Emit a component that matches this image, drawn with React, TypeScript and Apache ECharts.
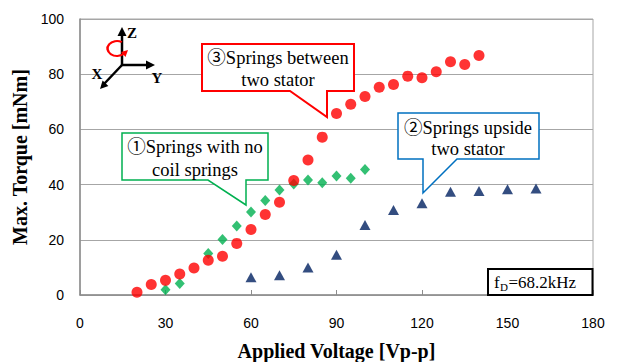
import React, { useEffect, useRef } from "react";
import * as echarts from "echarts";

const voltsRed = [20, 25, 30, 35, 40, 45, 50, 55, 60, 65, 70, 75, 80, 85, 90, 95, 100, 105, 110, 115, 120, 125, 130, 135, 140];
const torqueRed = [1, 3.8, 5.3, 7.6, 9.8, 12.6, 14, 18.7, 23.7, 29.2, 33.6, 41.5, 48.9, 57.2, 65.8, 69.1, 71.9, 75.3, 76.3, 79.3, 78.7, 80.9, 84.5, 83.5, 86.8];
const voltsGreen = [30, 35, 45, 50, 55, 60, 65, 70, 75, 80, 85, 90, 95, 100];
const torqueGreen = [1.9, 4.2, 15, 20.1, 25, 30.1, 34.2, 38, 40.2, 41.7, 40.7, 43.1, 42.3, 45.5];
const voltsBlue = [60, 70, 80, 90, 100, 110, 120, 130, 140, 150, 160];
const torqueBlue = [6.4, 7.2, 10, 14.6, 25.4, 30.8, 33.2, 37.4, 37.7, 38.3, 38.6];

const xTicks = [0, 30, 60, 90, 120, 150, 180];
const yTicks = [0, 20, 40, 60, 80, 100];

const serif = '"Liberation Serif", "Noto Sans CJK JP", serif';
const sans = '"Liberation Sans", "DejaVu Sans", sans-serif';

function pairs(xs: number[], ys: number[]) {
  return xs.map((x, i) => [x, ys[i]]);
}

function txt(x: number, y: number, text: string, size: number, align: string, weight = "normal", z = 101) {
  return {
    type: "text",
    x,
    y,
    z,
    style: {
      text,
      fontFamily: serif,
      fontSize: size,
      fontWeight: weight,
      fill: "#000",
      align,
      verticalAlign: "middle",
    },
  };
}

function callout(points: number[][], color: string, lw: number, lines: string[], cx: number, ys: number[]) {
  const els: any[] = [
    {
      type: "polygon",
      shape: { points },
      style: { fill: "#fff", stroke: color, lineWidth: lw },
      z: 100,
    },
  ];
  lines.forEach((t, i) => els.push(txt(cx, ys[i], t, 18.5, "center")));
  return els;
}

export default function App() {
  const ref = useRef<HTMLDivElement>(null);
  useEffect(() => {
    document.body.style.margin = "0";
    const chart = echarts.init(ref.current!, null, { renderer: "svg" });
    const axisColor = "#8c8c8c";
    const graphics: any[] = [
      // coordinate icon
      { type: "line", shape: { x1: 122, y1: 65, x2: 122, y2: 34 }, style: { stroke: "#000", lineWidth: 2.5 }, z: 50 },
      { type: "line", shape: { x1: 122, y1: 65, x2: 148, y2: 65 }, style: { stroke: "#000", lineWidth: 2.5 }, z: 50 },
      { type: "line", shape: { x1: 122, y1: 65, x2: 104, y2: 84 }, style: { stroke: "#000", lineWidth: 2.5 }, z: 50 },
      { type: "polygon", shape: { points: [[122, 27], [117.5, 36], [126.5, 36]] }, style: { fill: "#000" }, z: 50 },
      { type: "polygon", shape: { points: [[155, 65], [146, 60.5], [146, 69.5]] }, style: { fill: "#000" }, z: 50 },
      { type: "polygon", shape: { points: [[100, 89], [108.4, 86], [102.6, 80.4]] }, style: { fill: "#000" }, z: 50 },
      {
        type: "arc",
        x: 117,
        y: 48.5,
        scaleY: 0.78,
        shape: { cx: 0, cy: 0, r: 9.5, startAngle: -Math.PI / 3, endAngle: Math.PI / 4, clockwise: false },
        style: { stroke: "#ff0000", lineWidth: 2.5, fill: "none" },
        z: 51,
      },
      { type: "polygon", shape: { points: [[128, 50], [121, 52], [125.5, 57]] }, style: { fill: "#ff0000" }, z: 51 },
      txt(132, 33, "Z", 15, "center", "bold", 50),
      txt(157, 78, "Y", 15, "center", "bold", 50),
      txt(97, 74, "X", 15, "center", "bold", 50),
      // callouts
      ...callout([[202, 44], [354, 44], [354, 91], [327, 91], [327, 117], [290, 91], [202, 91]], "#ff0000", 2, ["③Springs between", "two stator"], 278, [58, 80]),
      ...callout([[122, 133], [268, 133], [268, 180], [246, 180], [246, 205], [208, 180], [122, 180]], "#00b050", 1.5, ["①Springs with no", "coil springs"], 195, [147, 170]),
      ...callout([[398, 113], [539, 113], [539, 159], [457, 159], [423, 193], [423, 159], [398, 159]], "#0070c0", 1.5, ["②Springs upside", "two stator"], 468, [128, 149]),
      // fD box
      { type: "rect", shape: { x: 488, y: 269, width: 104.5, height: 26 }, style: { fill: "#fff", stroke: "#000", lineWidth: 2 }, z: 100 },
      txt(494, 282, "f", 17, "left"),
      txt(500, 286.5, "D", 11, "left"),
      txt(508.5, 282, "=68.2kHz", 17, "left"),
    ];

    chart.setOption({
      animation: false,
      backgroundColor: "#fff",
      grid: {
        left: 80,
        right: 24,
        top: 19,
        bottom: 67,
        containLabel: false,
        outerBoundsMode: "none",
        show: true,
        borderColor: "#a6a6a6",
        borderWidth: 1,
        backgroundColor: "transparent",
      },
      xAxis: {
        type: "value",
        min: xTicks[0],
        max: xTicks[xTicks.length - 1],
        interval: 30,
        name: "Applied Voltage [Vp-p]",
        nameLocation: "middle",
        nameGap: 46,
        nameTextStyle: { fontFamily: serif, fontWeight: "bold", fontSize: 20, color: "#000" },
        axisLine: { show: true, lineStyle: { color: axisColor, width: 1.5 } },
        axisTick: { show: true, inside: true, length: 5, lineStyle: { color: axisColor } },
        axisLabel: { fontFamily: sans, fontSize: 14, color: "#000", margin: 21 },
        splitLine: { show: false },
      },
      yAxis: {
        type: "value",
        min: yTicks[0],
        max: yTicks[yTicks.length - 1],
        interval: 20,
        name: "Max. Torque [mNm]",
        nameLocation: "middle",
        nameGap: 48,
        nameTextStyle: { fontFamily: serif, fontWeight: "bold", fontSize: 20, color: "#000" },
        axisLine: { show: true, lineStyle: { color: axisColor, width: 1.5 } },
        axisTick: { show: false },
        axisLabel: { fontFamily: sans, fontSize: 14, color: "#000", margin: 16 },
        splitLine: { show: true, lineStyle: { color: "#a6a6a6", width: 1 } },
      },
      series: [
        {
          type: "scatter",
          name: "② upside",
          data: pairs(voltsBlue, torqueBlue),
          symbol: "triangle",
          symbolSize: [11, 10],
          itemStyle: { color: "#002060" },
          z: 2,
        },
        {
          type: "scatter",
          name: "① no coil",
          data: pairs(voltsGreen, torqueGreen),
          symbol: "diamond",
          symbolSize: [10, 11],
          itemStyle: { color: "#00b050" },
          z: 3,
        },
        {
          type: "scatter",
          name: "③ between",
          data: pairs(voltsRed, torqueRed),
          symbol: "circle",
          symbolSize: 11,
          itemStyle: { color: "#ff0000" },
          z: 4,
        },
      ],
      graphic: graphics,
    });
    return () => chart.dispose();
  }, []);
  return <div ref={ref} style={{ width: 617, height: 362 }} />;
}
